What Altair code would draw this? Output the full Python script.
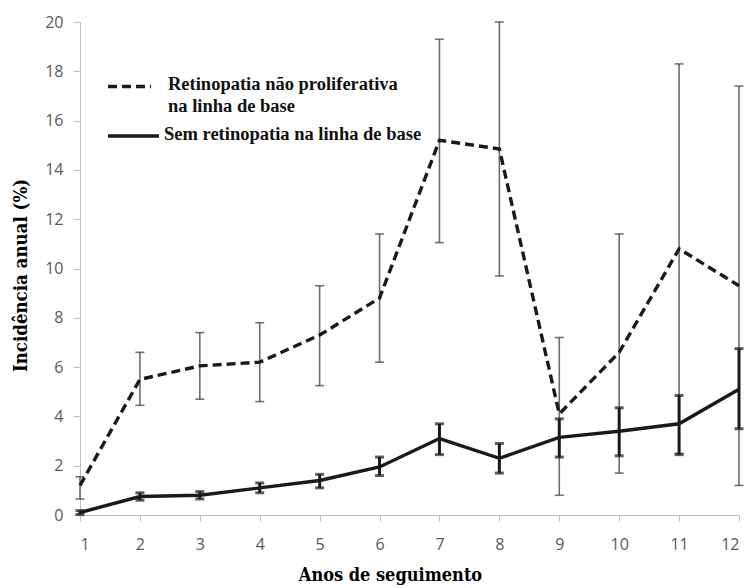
import altair as alt
import pandas as pd

# Annual incidence (%) by year of follow-up, with 95% confidence limits
anos = list(range(1, 13))

rnp = [1.2, 5.5, 6.05, 6.2, 7.3, 8.8, 15.2, 14.85, 4.1, 6.6, 10.8, 9.3]
rnp_sup = [1.55, 6.6, 7.4, 7.8, 9.3, 11.4, 19.3, 20.0, 7.2, 11.4, 18.3, 17.4]
rnp_inf = [0.65, 4.45, 4.7, 4.6, 5.25, 6.2, 11.05, 9.7, 0.8, 1.7, 2.5, 1.2]

sem = [0.1, 0.75, 0.8, 1.1, 1.4, 1.95, 3.1, 2.3, 3.15, 3.4, 3.7, 5.1]
sem_sup = [0.18, 0.9, 0.95, 1.3, 1.65, 2.35, 3.7, 2.9, 3.9, 4.35, 4.85, 6.75]
sem_inf = [0.02, 0.6, 0.65, 0.9, 1.1, 1.6, 2.45, 1.7, 2.35, 2.4, 2.45, 3.5]

legenda_rnp = ["Retinopatia não proliferativa", "na linha de base"]
legenda_sem = "Sem retinopatia na linha de base"

df_rnp = pd.DataFrame({"ano": anos, "v": rnp, "sup": rnp_sup, "inf": rnp_inf})
df_sem = pd.DataFrame({"ano": anos, "v": sem, "sup": sem_sup, "inf": sem_inf})

tick_font = "Liberation Sans Narrow, Open Sans, sans-serif"
title_font = "DejaVu Serif Condensed, Liberation Serif, serif"
serif = "Liberation Serif, serif"

x = alt.X(
    "ano:Q",
    scale=alt.Scale(domain=[1, 12], nice=False, zero=False),
    axis=alt.Axis(
        title="Anos de seguimento",
        values=anos,
        format="d",
        grid=False,
        domainColor="#bfbfbf",
        tickColor="#bfbfbf",
        tickSize=6,
        labelFont=tick_font,
        labelFontSize=16,
        labelColor="#595959",
        labelPadding=15,
        titleFont=title_font,
        titleFontSize=18,
        titleFontWeight="bold",
        titleColor="#000000",
        titleX=310,
        titleY=60,
        titleAlign="center",
        titleBaseline="middle",
    ),
)
y = alt.Y(
    "v:Q",
    scale=alt.Scale(domain=[0, 20], nice=False),
    axis=alt.Axis(
        title="Incidência anual (%)",
        values=list(range(0, 21, 2)),
        grid=False,
        domainColor="#bfbfbf",
        tickColor="#bfbfbf",
        tickSize=7,
        labelFont=tick_font,
        labelFontSize=16,
        labelColor="#595959",
        labelPadding=10,
        titleFont=title_font,
        titleFontSize=18.5,
        titleFontWeight="bold",
        titleColor="#000000",
        titleX=-60,
        titleY=253,
        titleAngle=270,
        titleAlign="center",
        titleBaseline="middle",
    ),
)

base_rnp = alt.Chart(df_rnp)
base_sem = alt.Chart(df_sem)

# Thin grey intervals for the non-proliferative group
barras_rnp = base_rnp.mark_rule(color="#6e6e6e", strokeWidth=1.6).encode(
    x=x, y=alt.Y("inf:Q"), y2="sup:Q"
)
capas_rnp = alt.layer(
    base_rnp.mark_tick(orient="horizontal", color="#3a3a3a", size=9, thickness=1.6).encode(x=x, y=alt.Y("sup:Q")),
    base_rnp.mark_tick(orient="horizontal", color="#3a3a3a", size=9, thickness=1.6).encode(x=x, y=alt.Y("inf:Q")),
)
linha_rnp = base_rnp.mark_line(color="#1a1a1a", strokeWidth=3.4, strokeDash=[9, 5]).encode(x=x, y=y)

# Heavy black intervals for the group without retinopathy
barras_sem = base_sem.mark_rule(color="#1a1a1a", strokeWidth=3).encode(
    x=x, y=alt.Y("inf:Q"), y2="sup:Q"
)
capas_sem = alt.layer(
    base_sem.mark_tick(orient="horizontal", color="#1a1a1a", size=9, thickness=3).encode(x=x, y=alt.Y("sup:Q")),
    base_sem.mark_tick(orient="horizontal", color="#1a1a1a", size=9, thickness=3).encode(x=x, y=alt.Y("inf:Q")),
)
linha_sem = base_sem.mark_line(color="#1a1a1a", strokeWidth=3.4).encode(x=x, y=y)

# Legend drawn inside the plot area
leg_df = pd.DataFrame({"k": [0]})
leg = alt.Chart(leg_df)
leg_linha_rnp = leg.mark_rule(color="#1a1a1a", strokeWidth=3.4, strokeDash=[9, 5]).encode(
    x=alt.value(28), x2=alt.value(71), y=alt.value(64.5)
)
leg_linha_sem = leg.mark_rule(color="#1a1a1a", strokeWidth=3.4).encode(
    x=alt.value(28), x2=alt.value(79), y=alt.value(114)
)
leg_txt_rnp = leg.mark_text(
    align="left", baseline="middle", font=serif, fontSize=18.5, fontWeight="bold",
    lineHeight=21.5, color="#111111", text=legenda_rnp,
).encode(x=alt.value(88), y=alt.value(62))
leg_txt_sem = leg.mark_text(
    align="left", baseline="middle", font=serif, fontSize=18.5, fontWeight="bold",
    color="#111111", text=legenda_sem,
).encode(x=alt.value(84), y=alt.value(112))

chart = alt.layer(
    barras_rnp, capas_rnp, linha_rnp, barras_sem, capas_sem, linha_sem,
    leg_linha_rnp, leg_linha_sem, leg_txt_rnp, leg_txt_sem,
).properties(
    width=659,
    height=493,
    padding={"left": 80, "top": 22, "right": 11, "bottom": 73},
    autosize=alt.AutoSizeParams(type="none"),
).configure_view(stroke=None)

chart.save("out.html", embed_options={"renderer": "svg", "actions": False})
